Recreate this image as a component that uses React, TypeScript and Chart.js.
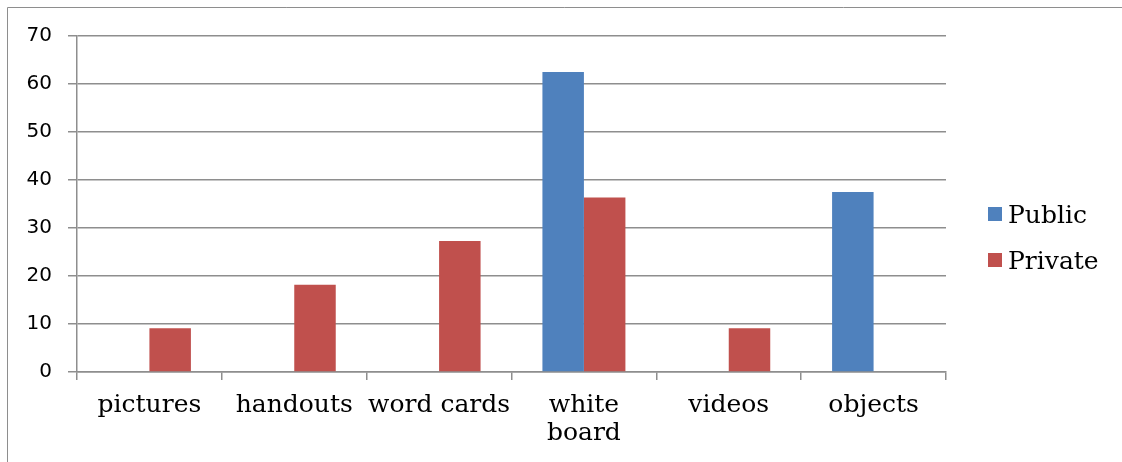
import React, { useEffect, useRef } from "react";
import { Chart, registerables } from "chart.js";

Chart.register(...registerables);

// Teaching aids used in class, share of teachers (%) by school type
const categories: (string | string[])[] = [
  "pictures",
  "handouts",
  "word cards",
  ["white", "board"],
  "videos",
  "objects",
];
const publicValues = [0, 0, 0, 62.5, 0, 37.5];
const privateValues = [9.09, 18.18, 27.27, 36.36, 9.09, 0];
const seriesNames = ["Public", "Private"];
const seriesColors = ["#4F81BD", "#C0504D"];
const yMin = 0;
const yMax = 70;
const yStep = 10;

const GRID = "#8e8e8e";
const SERIF = "'DejaVu Serif', serif";
const SANS = "'DejaVu Sans', sans-serif";

// Outer frame (left and top edges) plus the legend on the right
const framePlugin = {
  id: "frameAndLegend",
  afterDraw(chart: any) {
    const { ctx } = chart;
    ctx.save();
    ctx.strokeStyle = GRID;
    ctx.lineWidth = 1;
    ctx.beginPath();
    ctx.moveTo(7.5, chart.height);
    ctx.lineTo(7.5, 7.5);
    ctx.lineTo(chart.width, 7.5);
    ctx.stroke();

    ctx.font = `25px ${SERIF}`;
    ctx.textAlign = "left";
    ctx.textBaseline = "alphabetic";
    chart.data.datasets.forEach((ds: any, i: number) => {
      const top = 207 + i * 46;
      ctx.fillStyle = ds.backgroundColor;
      ctx.fillRect(988, top, 14, 14);
      ctx.fillStyle = "#000";
      ctx.fillText(ds.label, 1008, top + 16);
    });
    ctx.restore();
  },
};

export default function App() {
  const canvasRef = useRef<HTMLCanvasElement | null>(null);

  useEffect(() => {
    if (!canvasRef.current) return;
    const chart = new Chart(canvasRef.current, {
      type: "bar",
      data: {
        labels: categories,
        datasets: [
          {
            label: seriesNames[0],
            data: publicValues,
            backgroundColor: seriesColors[0],
            borderWidth: 0,
          },
          {
            label: seriesNames[1],
            data: privateValues,
            backgroundColor: seriesColors[1],
            borderWidth: 0,
          },
        ],
      },
      options: {
        responsive: false,
        animation: false,
        layout: { padding: { left: 0, right: 176, top: 36, bottom: 0 } },
        datasets: {
          bar: { categoryPercentage: 0.573, barPercentage: 1 },
        },
        plugins: {
          legend: { display: false },
          tooltip: { enabled: false },
        },
        scales: {
          x: {
            afterFit: (scale: any) => {
              scale.height = 90;
            },
            grid: {
              offset: true,
              drawOnChartArea: false,
              drawTicks: true,
              tickLength: 8,
              color: GRID,
              lineWidth: 1.5,
            },
            border: { display: true, color: GRID, width: 1.5 },
            ticks: {
              color: "#000",
              font: { family: SERIF, size: 25, lineHeight: 1.13 },
              padding: 11,
              maxRotation: 0,
              autoSkip: false,
            },
          },
          y: {
            min: yMin,
            max: yMax,
            afterFit: (scale: any) => {
              scale.width = 77;
            },
            grid: {
              drawTicks: true,
              tickLength: 9,
              color: GRID,
              lineWidth: 1.5,
            },
            border: { display: true, color: GRID, width: 1.5 },
            ticks: {
              stepSize: yStep,
              color: "#000",
              font: { family: SANS, size: 20 },
              padding: 16,
            },
          },
        },
      },
      plugins: [framePlugin],
    });
    return () => chart.destroy();
  }, []);

  return (
    <div style={{ position: "absolute", left: 0, top: 0, width: 1122, height: 462, background: "#fff" }}>
      <canvas ref={canvasRef} width={1122} height={462} />
    </div>
  );
}
